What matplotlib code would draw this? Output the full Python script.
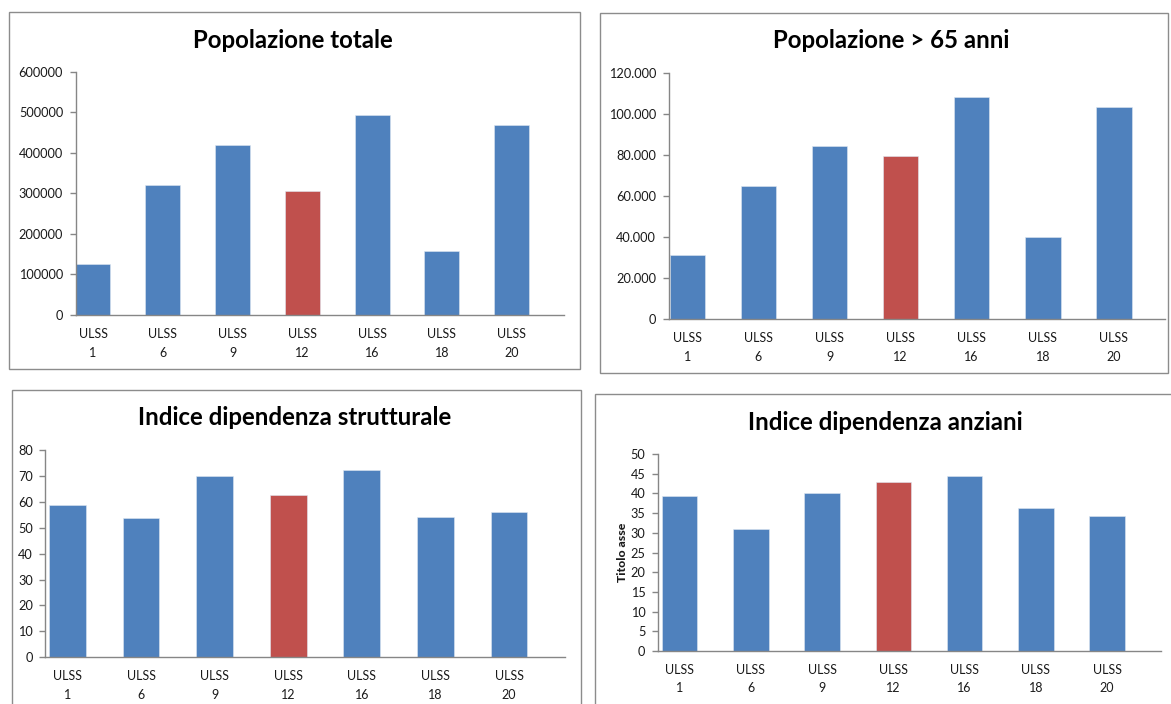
import matplotlib
matplotlib.use("Agg")
import matplotlib.pyplot as plt
from matplotlib.patches import Rectangle
from matplotlib.ticker import FuncFormatter, MultipleLocator

plt.rcParams['font.family'] = ['Lato', 'DejaVu Sans']

# --- data -------------------------------------------------------------
ulss = ["1", "6", "9", "12", "16", "18", "20"]
highlight = "12"

pop_totale = [126000, 321000, 419000, 305000, 492000, 158000, 468000]
pop_over65 = [31100, 64900, 84300, 79600, 108000, 40100, 103200]
ind_dip_strutturale = [58.8, 53.9, 70.1, 62.5, 72.3, 54.3, 56.2]
ind_dip_anziani = [39.3, 31.0, 40.0, 42.8, 44.5, 36.3, 34.3]

titles = ["Popolazione totale", "Popolazione > 65 anni",
          "Indice dipendenza strutturale", "Indice dipendenza anziani"]

BLUE = "#4F81BD"
RED = "#C0504D"
AXIS_GREY = "#868686"
BORDER_GREY = "#8c8c8c"
TEXT = "#1a1a1a"

W, H = 1171, 704
fig = plt.figure(figsize=(W / 100, H / 100), dpi=100)
fig.patch.set_facecolor("white")


def fx(x):
    return x / W


def fy(y):
    return 1 - y / H


def panel_border(x0, y0, x1, y1):
    fig.patches.append(Rectangle((fx(x0), fy(y1)), fx(x1) - fx(x0), fy(y0) - fy(y1),
                                 transform=fig.transFigure, fill=False,
                                 edgecolor=BORDER_GREY, linewidth=1.0, zorder=0))


def dot_thousands(v, pos):
    return f"{int(round(v)):,}".replace(",", ".")


def bar_panel(box, values, ymax, step, xlim, title, title_xy, fmt=None, ylabel=None):
    left, top, right, bottom = box
    ax = fig.add_axes([fx(left), fy(bottom), fx(right) - fx(left), fy(top) - fy(bottom)])
    colors = [RED if u == highlight else BLUE for u in ulss]
    ax.bar(range(len(ulss)), values, width=0.5, color=colors,
           edgecolor="#dfe7f1", linewidth=0.4)
    ax.set_xlim(*xlim)
    ax.set_ylim(0, ymax)
    ax.yaxis.set_major_locator(MultipleLocator(step))
    if fmt is not None:
        ax.yaxis.set_major_formatter(FuncFormatter(fmt))
    else:
        ax.yaxis.set_major_formatter(FuncFormatter(lambda v, p: f"{int(round(v))}"))
    ax.set_xticks(range(len(ulss)))
    ax.set_xticklabels([f"ULSS\n{u}" for u in ulss], linespacing=1.7)
    for s in ("top", "right"):
        ax.spines[s].set_visible(False)
    for s in ("left", "bottom"):
        ax.spines[s].set_color(AXIS_GREY)
        ax.spines[s].set_linewidth(1.0)
    ax.tick_params(axis="x", length=0, pad=9, labelsize=9, labelcolor=TEXT)
    ax.tick_params(axis="y", length=4, width=1.0, color=AXIS_GREY, pad=5,
                   labelsize=9.2, labelcolor=TEXT)
    if ylabel:
        ax.set_ylabel(ylabel, fontsize=8.8, fontweight="black", color=TEXT, labelpad=2)
    fig.text(fx(title_xy[0]), fy(title_xy[1]), title, ha="center", va="center",
             fontsize=17.3, fontweight="bold", color="black")
    return ax


# panel frames
panel_border(9, 11.5, 580, 369)
panel_border(600, 12.5, 1168, 373)
panel_border(11.5, 390, 581, 720)
panel_border(594.5, 394, 1190, 720)

bar_panel((75.6, 71.7, 564, 315), pop_totale, 600000, 100000, (-0.25, 6.75),
          titles[0], (293, 40))
bar_panel((668.5, 72.7, 1165, 319.3), pop_over65, 120000, 20000, (-0.266, 6.72),
          titles[1], (891, 41), fmt=dot_thousands)
bar_panel((45.4, 450, 565, 657.3), ind_dip_strutturale, 80, 10, (-0.30, 6.76),
          titles[2], (295, 417.5))
ax4 = bar_panel((657.8, 454, 1160.6, 651), ind_dip_anziani, 50, 5, (-0.306, 6.75),
                titles[3], (885, 422.5), ylabel="Titolo asse")

fig.savefig("out.png", dpi=100, facecolor="white")
